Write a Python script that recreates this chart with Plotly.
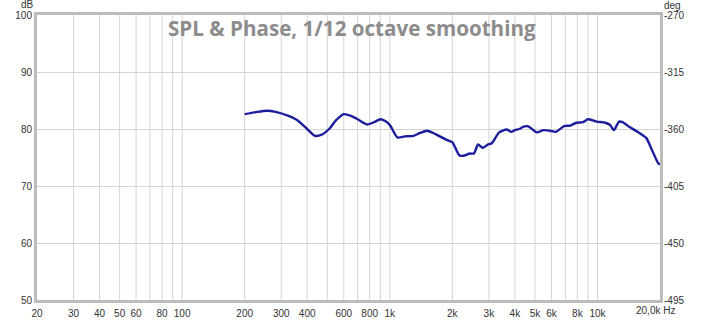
import numpy as np
import plotly.graph_objects as go

freq_hz = [200, 230, 256, 282, 330, 360, 400, 436, 470, 510, 550, 600, 650, 700, 776, 840, 900, 950,
           1000, 1090, 1180, 1300, 1400, 1510, 1620, 1740, 1930, 2000, 2160, 2260, 2430, 2540, 2660,
           2800, 2960, 3100, 3360, 3650, 3850, 4000, 4200, 4400, 4600, 4800, 5100, 5500, 5900, 6300,
           6900, 7400, 7900, 8500, 9000, 9900, 10900, 11500, 12000, 12700, 13200, 14200, 15600,
           17200, 18000, 19600, 20000]
spl_db = [82.6, 83.0, 83.2, 83.0, 82.2, 81.5, 80.0, 78.8, 79.0, 80.0, 81.5, 82.6, 82.3, 81.7, 80.8,
          81.2, 81.7, 81.4, 80.7, 78.5, 78.7, 78.8, 79.3, 79.7, 79.3, 78.7, 77.9, 77.7, 75.4, 75.3,
          75.7, 75.7, 77.3, 76.7, 77.25, 77.5, 79.4, 79.9, 79.5, 79.8, 80.0, 80.4, 80.5, 80.1, 79.4,
          79.8, 79.7, 79.5, 80.5, 80.6, 81.1, 81.2, 81.7, 81.3, 81.1, 80.7, 79.8, 81.3, 81.2, 80.4,
          79.5, 78.4, 76.9, 74.0, 73.8]

x_grid = [30, 40, 50, 60, 70, 80, 90, 100, 200, 300, 400, 500, 600, 700, 800, 900, 1000,
          2000, 3000, 4000, 5000, 6000, 7000, 8000, 9000, 10000]
x_tick_vals = [20, 30, 40, 50, 60, 80, 100, 200, 300, 400, 600, 800, 1000, 2000, 3000, 4000,
               5000, 6000, 8000, 10000]
x_tick_text = ["20", "30", "40", "50", "60", "80", "100", "200", "300", "400", "600", "800",
               "1k", "2k", "3k", "4k", "5k", "6k", "8k", "10k"]
db_ticks = [50, 60, 70, 80, 90, 100]
deg_ticks = [-495, -450, -405, -360, -315, -270]
deg_text = ["-495", "-450", "-405", "-360", "-315", "-270"]

GRID = "#d4d4d4"
FRAME = "#bcbcbc"
TXT = "#333333"
FONT = "Liberation Sans"

fig = go.Figure()
fig.add_trace(go.Scatter(x=freq_hz, y=spl_db, mode="lines",
                         line=dict(color="#1c1c9e", width=2.4, shape="spline", smoothing=0.6),
                         showlegend=False, hoverinfo="skip"))
# invisible trace for the phase axis
fig.add_trace(go.Scatter(x=[20], y=[-400], yaxis="y2", mode="markers",
                         marker=dict(opacity=0), showlegend=False, hoverinfo="skip"))

# vertical grid lines
for g in x_grid:
    fig.add_vline(x=g, line=dict(color=GRID, width=1), layer="below")

fig.update_layout(
    width=705, height=320,
    margin=dict(l=37, r=45, t=15, b=20, autoexpand=False),
    paper_bgcolor="white", plot_bgcolor="white",
    font=dict(family=FONT, size=10, color=TXT),
    xaxis=dict(type="log", range=[np.log10(20), np.log10(20000)],
               tickvals=x_tick_vals, ticktext=x_tick_text, showgrid=False,
               showline=True, linecolor=FRAME, linewidth=3, mirror=True, automargin=False,
               ticks="", ticklabelstandoff=2, tickfont=dict(size=10, color=TXT), zeroline=False),
    yaxis=dict(range=[50, 100], tickvals=db_ticks, showgrid=True, gridcolor=GRID, gridwidth=1,
               showline=True, linecolor=FRAME, linewidth=3, mirror=True, automargin=False,
               ticks="", tickfont=dict(size=10, color=TXT), zeroline=False),
    yaxis2=dict(range=[-495, -270], tickvals=deg_ticks, ticktext=deg_text, overlaying="y",
                side="right", automargin=False, ticklabelstandoff=3,
                showgrid=False, ticks="", tickfont=dict(size=10, color=TXT), zeroline=False,
                showline=False),
)

fig.add_annotation(text="SPL &amp; Phase, 1/12 octave smoothing", xref="paper", yref="paper",
                   x=0.505, y=0.955, xanchor="center", yanchor="middle", showarrow=False,
                   font=dict(family="Open Sans", size=20.6, color="#8c8c8c", weight="bold"))
fig.add_annotation(text="dB", xref="paper", yref="paper", x=0, y=1, xanchor="right", yanchor="bottom",
                   xshift=-1, yshift=3, showarrow=False, font=dict(size=10, color=TXT))
fig.add_annotation(text="deg", xref="paper", yref="paper", x=1, y=1, xanchor="left", yanchor="bottom",
                   xshift=2, yshift=2, showarrow=False, font=dict(size=10, color=TXT))
fig.add_annotation(text="20,0k Hz", xref="x", yref="paper", x=np.log10(20000), y=0,
                   xanchor="center", yanchor="top", xshift=-5, yshift=-3, showarrow=False,
                   font=dict(size=10, color=TXT))

fig.write_html("out.html", config={"displayModeBar": False},
               post_script="document.body.style.margin='0';")
